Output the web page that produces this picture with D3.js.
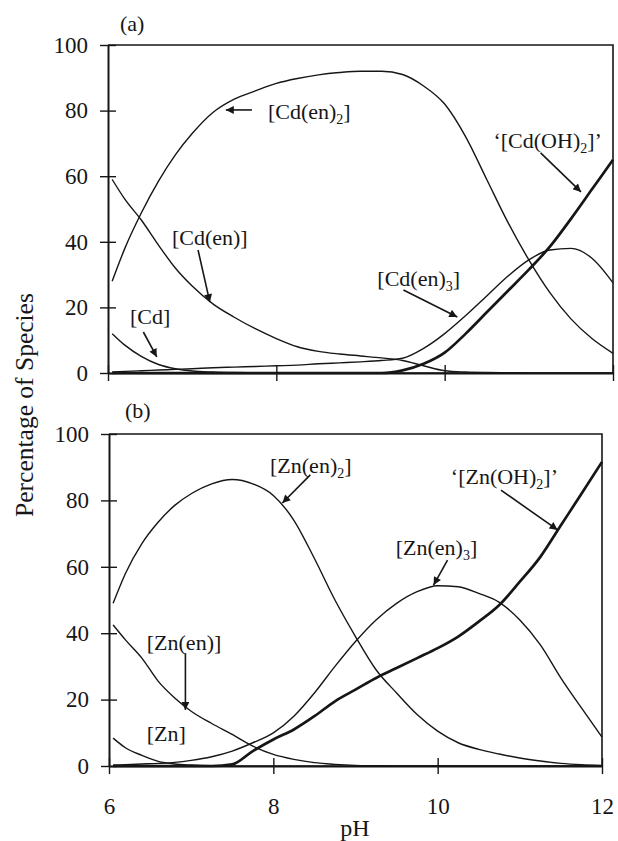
<!DOCTYPE html>
<html>
<head>
<meta charset="utf-8">
<script src="https://cdn.jsdelivr.net/npm/d3@7/dist/d3.min.js"></script>
<style>
  body { margin: 0; background: #fff; }
  svg text { font-family: "Liberation Serif", "Times New Roman", serif; fill: #161616; }
</style>
</head>
<body>
<svg id="chart" width="618" height="841"></svg>
<script>
// pH grid shared by both panels
const pH = [6.05, 6.2, 6.4, 6.6, 6.8, 7.0, 7.25, 7.5, 7.75, 8.0, 8.25, 8.5, 8.75,
            9.0, 9.25, 9.5, 9.75, 10.0, 10.25, 10.5, 10.75, 11.0, 11.25, 11.5, 11.75, 12.0];

// (a) cadmium species, % of total
const cd      = [12, 8.5, 5, 2.6, 1.3, 0.6, 0.3, 0.15, 0.1, 0.05, 0, 0, 0, 0, 0, 0, 0, 0, 0, 0, 0, 0, 0, 0, 0, 0];
const cdEn    = [59, 53, 46.5, 39, 32, 26.5, 21, 17, 13.5, 10.5, 8, 6.6, 5.8, 5.2, 4.6, 3.8, 2.2, 0.7, 0.3, 0.15, 0.1, 0.05, 0, 0, 0, 0];
const cdEn2   = [28, 38, 49, 58.5, 66.5, 73, 79.5, 83.5, 86, 88.3, 89.8, 90.9, 91.6, 92, 92, 91, 87.5, 82, 72, 59, 46, 34.5, 24.5, 16.5, 10.5, 6];
const cdEn3   = [0.3, 0.5, 0.7, 0.9, 1.1, 1.3, 1.6, 1.8, 2.0, 2.2, 2.4, 2.8, 3.1, 3.4, 3.8, 4.5, 7.5, 12, 17.5, 23.5, 29.5, 34.5, 37.5, 38, 35, 27.5];
const cdOH2   = [0, 0, 0, 0, 0, 0, 0, 0, 0, 0, 0, 0, 0, 0, 0, 0.8, 2.8, 6.2, 12, 18.5, 25, 31.5, 38.5, 47, 56, 65];

// (b) zinc species, % of total
const zn      = [8.4, 5.5, 3.2, 1.4, 0.6, 0.3, 0.1, 0.05, 0, 0, 0, 0, 0, 0, 0, 0, 0, 0, 0, 0, 0, 0, 0, 0, 0, 0];
const znEn    = [42.5, 38, 32.5, 25.5, 20.5, 16.5, 12.8, 9.5, 6, 3.5, 2, 1, 0.5, 0.2, 0.1, 0, 0, 0, 0, 0, 0, 0, 0, 0, 0, 0];
const znEn2   = [49, 58, 67, 73.5, 78.5, 82, 85, 86.3, 85, 81.5, 74, 62.5, 50, 39, 29, 22, 15.5, 10.5, 7, 5, 3.6, 2.4, 1.5, 0.8, 0.4, 0.2];
const znEn3   = [0.3, 0.4, 0.6, 0.8, 1.1, 1.7, 2.8, 4.5, 7, 10, 15, 22, 30, 37.5, 44, 49, 52.5, 54.3, 54, 52, 49.3, 44, 36.5, 26.5, 17.5, 8.7];
const znOH2   = [0, 0, 0, 0, 0, 0, 0, 0.5, 4.5, 8, 11, 15, 19.5, 23, 26.5, 29.5, 32.5, 35.5, 39, 43.5, 48.5, 55.5, 63, 72.5, 82, 91.6];

// axis ticks
const yTicks = [0, 20, 40, 60, 80, 100];
const xTicks = [6, 8, 10, 12];
const xTickLabels = ["6", "8", "10", "12"];

// species labels: "_" marks a one-character subscript; arrows run from [pH, %] to [pH, %]
const labelsA = [
  { text: "[Cd(en)_2]",      at: [7.90, 77.4], from: [7.71, 80.2],  to: [7.40, 80.2] },
  { text: "\u2018[Cd(OH)_2]\u2019", at: [10.58, 68.6], from: [11.14, 67.1], to: [11.62, 55.2] },
  { text: "[Cd(en)]",        at: [6.76, 39.0], from: [7.07, 37.5],  to: [7.21, 21.6] },
  { text: "[Cd]",            at: [6.26, 14.9], from: [6.42, 12.5],  to: [6.58, 4.9] },
  { text: "[Cd(en)_3]",      at: [9.20, 26.5], from: [9.51, 25.3],  to: [10.15, 17.1] }
];
const labelsB = [
  { text: "[Zn(en)_2]",      at: [7.96, 88.3], from: [8.45, 87.7],  to: [8.11, 79.2] },
  { text: "\u2018[Zn(OH)_2]\u2019", at: [10.16, 84.9], from: [10.77, 83.1], to: [11.46, 71.1] },
  { text: "[Zn(en)_3]",      at: [9.49, 63.6], from: [10.12, 62.0], to: [9.95, 54.5] },
  { text: "[Zn(en)]",        at: [6.46, 34.9], from: [6.93, 34.0],  to: [6.93, 16.9] },
  { text: "[Zn]",            at: [6.46, 7.5] }
];

const panels = [
  { tag: "(a)", xr: [108, 613], yr: [373, 45], tagPos: [120, 31], showX: false,
    series: [[cd, 1.4], [cdEn, 1.4], [cdEn2, 1.4], [cdEn3, 1.4], [cdOH2, 2.7]], labels: labelsA },
  { tag: "(b)", xr: [109, 602], yr: [766, 434], tagPos: [125, 418], showX: true,
    series: [[zn, 1.4], [znEn, 1.4], [znEn2, 1.4], [znEn3, 1.4], [znOH2, 2.7]], labels: labelsB }
];

const svg = d3.select("#chart");
const ink = "#161616";

svg.append("defs").append("marker")
  .attr("id", "head")
  .attr("viewBox", "0 0 10 10")
  .attr("refX", 10).attr("refY", 5)
  .attr("markerWidth", 11).attr("markerHeight", 8)
  .attr("markerUnits", "userSpaceOnUse")
  .attr("orient", "auto")
  .append("path").attr("d", "M0,0 L10,5 L0,10 Z").attr("fill", ink);

function richText(sel, str) {
  const parts = str.split("_");
  sel.append("tspan").text(parts[0]);
  for (let i = 1; i < parts.length; i++) {
    sel.append("tspan").attr("dy", 5).attr("font-size", 14).text(parts[i][0]);
    sel.append("tspan").attr("dy", -5).text(parts[i].slice(1));
  }
}

panels.forEach(p => {
  const x = d3.scaleLinear().domain([6, 12]).range(p.xr);
  const y = d3.scaleLinear().domain([0, 100]).range(p.yr);
  const g = svg.append("g");

  // frame: top and right edges
  g.append("path")
    .attr("d", `M${x(6)},${y(100)} H${x(12)} V${y(0)}`)
    .attr("fill", "none").attr("stroke", ink).attr("stroke-width", 1.6);

  // y axis
  const ya = g.append("g").attr("transform", `translate(${x(6)},0)`)
    .call(d3.axisLeft(y).tickValues(yTicks).tickSizeOuter(0).tickSizeInner(0).tickPadding(20));
  ya.select(".domain").attr("stroke", ink).attr("stroke-width", 2);
  ya.selectAll(".tick line").attr("x1", -8).attr("x2", 8).attr("stroke", ink).attr("stroke-width", 1.4);
  ya.selectAll(".tick text").attr("font-size", 23).attr("font-family", "Liberation Serif").attr("fill", ink);

  // x axis
  const xa = g.append("g").attr("transform", `translate(0,${y(0)})`)
    .call(d3.axisBottom(x).tickValues(xTicks).tickSizeOuter(0).tickSizeInner(0).tickPadding(32)
      .tickFormat((d, i) => p.showX ? xTickLabels[i] : ""));
  xa.select(".domain").attr("stroke", ink).attr("stroke-width", 2);
  xa.selectAll(".tick line").attr("y1", -8).attr("y2", 8).attr("stroke", ink).attr("stroke-width", 1.4);
  xa.selectAll(".tick text").attr("font-size", 23).attr("font-family", "Liberation Serif").attr("fill", ink);

  // species curves
  const line = d3.line().x((d, i) => x(pH[i])).y(d => y(d)).curve(d3.curveMonotoneX);
  p.series.forEach(([vals, w]) => {
    g.append("path").datum(vals).attr("d", line)
      .attr("fill", "none").attr("stroke", ink).attr("stroke-width", w)
      .attr("stroke-linejoin", "round");
  });

  // species labels and arrows
  p.labels.forEach(l => {
    const t = g.append("text").attr("x", x(l.at[0])).attr("y", y(l.at[1])).attr("font-size", 22);
    richText(t, l.text);
    if (l.from) {
      g.append("line")
        .attr("x1", x(l.from[0])).attr("y1", y(l.from[1]))
        .attr("x2", x(l.to[0])).attr("y2", y(l.to[1]))
        .attr("stroke", ink).attr("stroke-width", 1.6)
        .attr("marker-end", "url(#head)");
    }
  });

  g.append("text").attr("x", p.tagPos[0]).attr("y", p.tagPos[1]).attr("font-size", 22).text(p.tag);
});

// shared axis titles
svg.append("text")
  .attr("transform", "translate(33,405) rotate(-90)")
  .attr("text-anchor", "middle").attr("font-size", 25.5)
  .text("Percentage of Species");

svg.append("text")
  .attr("x", 355).attr("y", 836).attr("text-anchor", "middle").attr("font-size", 24)
  .text("pH");
</script>
</body>
</html>
